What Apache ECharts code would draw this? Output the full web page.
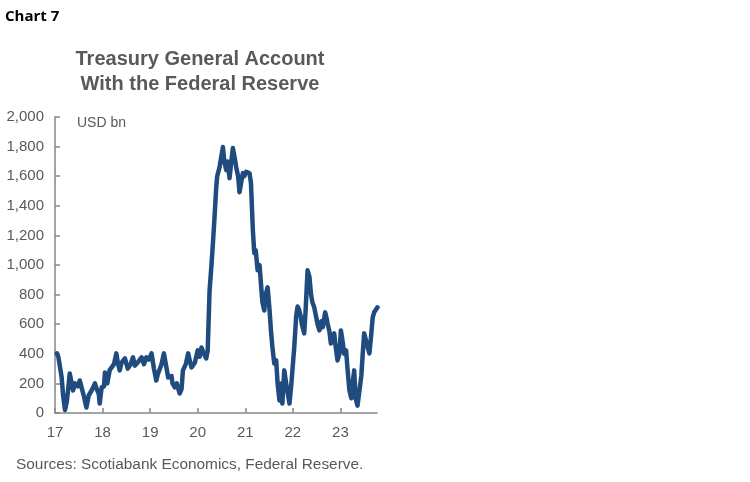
<!DOCTYPE html>
<html>
<head>
<meta charset="utf-8">
<script src="https://cdn.jsdelivr.net/npm/echarts@6/dist/echarts.min.js"></script>
<style>html,body{margin:0;padding:0;background:#fff}#c{width:750px;height:482px}</style>
</head>
<body>
<div id="c"></div>
<script>
// decimal years (17 = Jan 2017)
const years = [17.04,17.07,17.14,17.17,17.21,17.25,17.31,17.38,17.42,17.48,17.52,17.57,17.61,17.66,17.71,17.77,17.84,17.88,17.92,17.94,17.98,
18.03,18.05,18.10,18.12,18.15,18.19,18.24,18.29,18.32,18.36,18.40,18.47,18.53,18.59,18.64,18.68,18.71,18.76,18.82,18.87,18.92,18.97,
19.03,19.08,19.13,19.16,19.20,19.24,19.29,19.33,19.38,19.45,19.47,19.52,19.56,19.62,19.66,19.69,19.75,19.80,19.83,19.87,19.94,
20.00,20.04,20.08,20.13,20.18,20.21,20.25,20.29,20.32,20.35,20.39,20.41,20.46,20.49,20.53,20.56,20.60,20.63,20.67,20.70,20.74,20.78,20.81,20.85,20.88,20.91,20.95,20.98,
21.02,21.05,21.09,21.12,21.16,21.19,21.22,21.26,21.30,21.32,21.36,21.40,21.43,21.47,21.51,21.54,21.57,21.61,21.65,21.68,21.72,21.76,21.78,21.82,21.86,21.93,21.97,
22.03,22.07,22.10,22.13,22.17,22.19,22.24,22.27,22.31,22.35,22.38,22.41,22.45,22.49,22.52,22.56,22.60,22.63,22.68,22.71,22.73,22.77,22.80,22.83,22.87,22.90,22.94,22.98,
23.01,23.04,23.08,23.12,23.15,23.19,23.23,23.26,23.29,23.32,23.36,23.39,23.44,23.47,23.50,23.54,23.57,23.61,23.64,23.68,23.71,23.75,23.78];
// USD bn
const tga = [403,380,240,120,20,80,267,152,200,180,220,160,110,37,120,152,200,160,130,64,173,
180,274,200,190,290,301,330,403,340,288,340,369,300,330,376,320,310,350,376,330,376,360,
403,300,220,260,250,330,403,330,240,250,200,173,200,132,160,288,330,403,360,308,340,
423,380,443,400,369,420,829,1000,1146,1300,1526,1600,1661,1720,1797,1700,1641,1700,1587,1680,1790,1720,1661,1600,1492,1550,1621,1600,
1630,1641,1620,1553,1235,1080,1100,964,1000,917,750,693,800,849,700,558,450,335,355,200,85,200,64,288,200,64,200,
443,650,720,700,646,600,538,700,964,920,808,750,714,650,600,558,620,580,680,640,605,550,470,500,538,450,355,400,
558,500,400,423,300,152,100,200,288,100,50,60,250,400,538,550,450,403,500,646,680,693,714];
const xTicks = [17,18,19,20,21,22,23];
const xTickLabels = ['17','18','19','20','21','22','23'];

const chart = echarts.init(document.getElementById('c'), null, {renderer:'canvas'});
const gray = '#595959';
const axisGray = '#868686';
chart.setOption({
  animation:false,
  backgroundColor:'#fff',
  title:[
    {text:'Chart 7', left:5, top:9, padding:0, textStyle:{fontFamily:'Open Sans', fontWeight:'bold', fontSize:15, color:'#000'}},
    {text:'Treasury General Account\nWith the Federal Reserve', left:200, textAlign:'center', top:47, padding:0,
     textStyle:{fontFamily:'Liberation Sans', fontWeight:'bold', fontSize:20, color:gray, lineHeight:25}},
    {text:'USD bn', left:77, top:116, padding:0, textStyle:{fontFamily:'Liberation Sans', fontWeight:'normal', fontSize:14, color:gray}},
    {text:'Sources: Scotiabank Economics, Federal Reserve.', left:16, top:457, padding:0, textStyle:{fontFamily:'Liberation Sans', fontWeight:'normal', fontSize:15.4, color:gray}}
  ],
  grid:{left:55, right:373, top:117, bottom:69, containLabel:false},
  xAxis:{
    type:'value', min:17, max:23.77,
    axisLine:{show:true, lineStyle:{color:axisGray, width:1.5}},
    axisTick:{show:true, inside:true, length:5, customValues:xTicks, lineStyle:{color:axisGray, width:1.5}},
    axisLabel:{customValues:xTicks, formatter:(v)=>xTickLabels[xTicks.indexOf(Math.round(v))] ?? '', color:gray, fontFamily:'Liberation Sans', fontSize:15, margin:12},
    splitLine:{show:false}
  },
  yAxis:{
    type:'value', min:0, max:2000, interval:200,
    axisLine:{show:true, lineStyle:{color:axisGray, width:1.5}},
    axisTick:{show:true, inside:true, length:5, lineStyle:{color:axisGray, width:1.5}},
    axisLabel:{formatter:(v)=>v.toLocaleString('en-US'), color:gray, fontFamily:'Liberation Sans', fontSize:15, margin:11},
    splitLine:{show:false}
  },
  series:[{
    type:'line', data:years.map((y,i)=>[y,tga[i]]), showSymbol:false, smooth:false,
    lineStyle:{color:'#1F4B7F', width:4.5, join:'round', cap:'round'}
  }]
});
</script>
</body>
</html>
